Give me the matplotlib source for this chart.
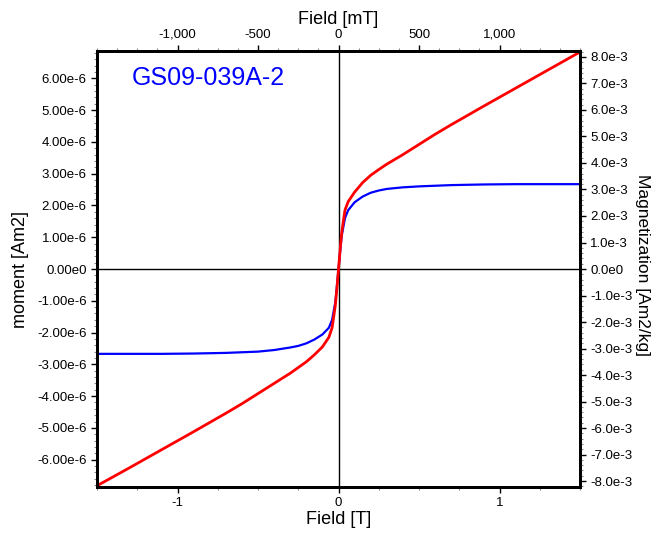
import matplotlib
matplotlib.use('Agg')
import matplotlib.pyplot as plt
from matplotlib.ticker import MultipleLocator, FixedLocator, FuncFormatter

plt.rcParams['font.family'] = ['Liberation Sans', 'DejaVu Sans']
plt.rcParams['axes.unicode_minus'] = False

# field [T]
field = [-1.5, -1.3, -1.1, -0.9, -0.7, -0.6, -0.5, -0.4, -0.3, -0.25, -0.2, -0.15, -0.1, -0.06, -0.04,
         -0.02, -0.01, 0.0,
         0.01, 0.02, 0.04, 0.06, 0.1, 0.15, 0.2, 0.25, 0.3, 0.4, 0.5, 0.6, 0.7, 0.9, 1.1, 1.3, 1.5]
# raw moment [Am2] (red)
moment_raw = [-6.82e-6, -6.26e-6, -5.69e-6, -5.12e-6, -4.54e-6, -4.24e-6, -3.92e-6, -3.6e-6, -3.28e-6,
              -3.1e-6, -2.92e-6, -2.7e-6, -2.45e-6, -2.15e-6, -1.85e-6,
              -1.15e-6, -0.6e-6, 0.0,
              0.6e-6, 1.15e-6, 1.85e-6, 2.12e-6, 2.42e-6, 2.72e-6, 2.95e-6, 3.13e-6, 3.3e-6, 3.6e-6,
              3.92e-6, 4.24e-6, 4.54e-6, 5.12e-6, 5.69e-6, 6.26e-6, 6.83e-6]
# slope corrected moment [Am2] (blue)
moment_corr = [-2.67e-6, -2.67e-6, -2.67e-6, -2.66e-6, -2.64e-6, -2.62e-6, -2.6e-6, -2.55e-6, -2.47e-6,
               -2.42e-6, -2.34e-6, -2.22e-6, -2.06e-6, -1.85e-6, -1.6e-6,
               -1.05e-6, -0.55e-6, 0.0,
               0.55e-6, 1.05e-6, 1.6e-6, 1.85e-6, 2.1e-6, 2.28e-6, 2.4e-6, 2.47e-6, 2.52e-6, 2.57e-6,
               2.6e-6, 2.62e-6, 2.64e-6, 2.66e-6, 2.67e-6, 2.67e-6, 2.67e-6]

sample = 'GS09-039A-2'
mass = 8.34e-4  # kg
ymax = 6.86e-6

fig = plt.figure(figsize=(6.52, 5.33), dpi=100)
ax = fig.add_axes([0.1488, 0.0863, 0.7408, 0.818])

ax.axhline(0, color='black', lw=1)
ax.axvline(0, color='black', lw=1)
ax.plot(field, moment_corr, color='#0000ff', lw=1.6)
ax.plot(field, moment_raw, color='#ff0000', lw=2)

ax.set_xlim(-1.5, 1.5)
ax.set_ylim(-ymax, ymax)
ax.xaxis.set_major_locator(MultipleLocator(1))
ax.xaxis.set_minor_locator(MultipleLocator(0.25))
ax.yaxis.set_major_locator(MultipleLocator(1e-6))
ax.yaxis.set_minor_locator(MultipleLocator(0.2e-6))
ax.yaxis.set_major_formatter(FuncFormatter(lambda v, p: '0.00e0' if abs(v) < 1e-12 else '%.2fe-6' % (v * 1e6)))
ax.xaxis.set_major_formatter(FuncFormatter(lambda v, p: '%d' % round(v)))
ax.set_xlabel('Field [T]', fontsize=13, labelpad=1)
ax.set_ylabel('moment [Am2]', fontsize=13, labelpad=6)

for s in ax.spines.values():
    s.set_linewidth(2)
ax.tick_params(which='major', length=4, width=1, labelsize=9.5, direction='out')
ax.tick_params(which='minor', length=2, width=0.8, color='#888888', direction='out')

# right axis: magnetization
ax2 = ax.twinx()
ax2.set_ylim(-ymax / mass, ymax / mass)
ax2.yaxis.set_major_locator(MultipleLocator(1e-3))
ax2.yaxis.set_minor_locator(MultipleLocator(0.2e-3))
ax2.yaxis.set_major_formatter(FuncFormatter(lambda v, p: '0.0e0' if abs(v) < 1e-12 else '%.1fe-3' % (v * 1e3)))
ax2.tick_params(which='major', length=4, width=1, labelsize=9.5, direction='out')
ax2.tick_params(which='minor', length=2, width=0.8, color='#888888', direction='out')
for s in ax2.spines.values():
    s.set_linewidth(2)
fig.text(635 / 652, 1 - 265 / 533, 'Magnetization [Am2/kg]', fontsize=12.5, rotation=270,
         ha='left', va='center')

# top axis: field in mT
ax3 = ax.secondary_xaxis('top', functions=(lambda x: x * 1000, lambda x: x / 1000))
ax3.xaxis.set_major_locator(FixedLocator([-1000, -500, 0, 500, 1000]))
ax3.xaxis.set_minor_locator(MultipleLocator(125))
ax3.xaxis.set_major_formatter(FuncFormatter(lambda v, p: '{:,.0f}'.format(v)))
ax3.set_xlabel('Field [mT]', fontsize=13, labelpad=3)
ax3.tick_params(which='major', length=4, width=1, labelsize=9.5, direction='out')
ax3.tick_params(which='minor', length=2, width=0.8, color='#888888', direction='out')
ax3.spines['top'].set_linewidth(2)

ax.text(0.072, 0.938, sample, transform=ax.transAxes, color='#0000ff', fontsize=18, va='center')

fig.savefig('out.png', dpi=100)
